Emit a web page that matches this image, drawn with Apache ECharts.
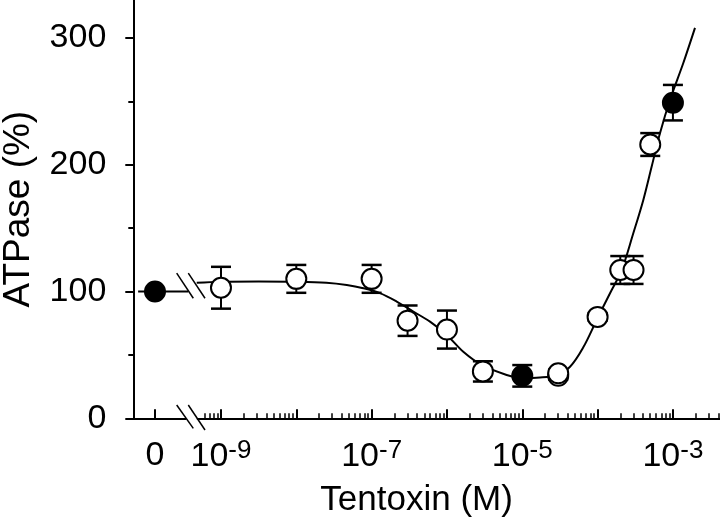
<!DOCTYPE html>
<html><head><meta charset="utf-8">
<script src="https://cdn.jsdelivr.net/npm/echarts@6/dist/echarts.min.js"></script>
<style>html,body{margin:0;padding:0;background:#fff}#c{width:720px;height:521px}</style>
</head><body><div id="c"></div>
<script>
// ---- axis ranges (x axis in log10 of concentration, M) ----
const ZERO_LOG = -9.876;          // where the "0" (no tentoxin) control sits
const X_MIN = -10.164, X_MAX = -2.375;
const Y_MIN = 0, Y_MAX = 330;

// ---- data ----
const controlATPase = [100];
const openConc   = [1e-9, 1e-8, 1e-7, 3e-7, 1e-6, 3e-6, 3e-5, 3e-5, 1e-4, 2e-4, 3e-4, 5e-4];
const openATPase = [103,  110,  110,  77,   70,   37,   33.5, 35.5, 80,   117,  117,  216];
const openErr    = [16.5, 11,   11,   12,   15,   8,    3,    3,    3,    11,   11,   9];
const filledConc   = [1e-5, 1e-3];
const filledATPase = [33.5, 249];
const filledErr    = [8.5,  14];

// fitted curve (log10 conc, ATPase %)
const fitLogConc = [-9.322,-9.0,-8.5,-8.0,-7.6,-7.33,-7.11,-6.89,-6.667,-6.447,-6.225,-6.003,-5.783,-5.539,-5.207,-5.007,-4.764,-4.543,-4.366,-4.19,-4.012,-3.835,-3.68,-3.526,-3.393,-3.282,-3.171,-3.038,-2.862,-2.707];
const fitATPase  = [107,107.8,108,107.8,107,105.2,102.6,98.7,92.1,84.2,76.3,65.8,52.5,42.1,34.2,31.8,32.2,34.2,40.7,56,77.6,98.7,117.1,146,172.3,198.6,225,251.3,280.3,308];
// control level line left of the axis break
const controlLineLog = [-10.10, -9.434];

// tick values
const yTicks = [0, 100, 200, 300];
const yMinorTicks = [50, 150, 250];
const xMajorTicks = [ZERO_LOG, -9, -8, -7, -6, -5, -4, -3];
const xLabelTicks = [ZERO_LOG, -9, -7, -5, -3];
const xMinorTicks = [];
for (let n = -10; n <= -3; n++) for (let k = 2; k <= 9; k++) {
  const v = n + Math.log10(k);
  if (v > -9.25 && v < X_MAX) xMinorTicks.push(v);
}
// axis-break decoration segments [x1,y1,x2,y2] in axis units
const breakMarks = [
  [-9.588, 10.5, -9.3675, -7.9], [-9.434, 10.5, -9.212, -9.2],
  [-9.588, 114.5, -9.3675, 94.7], [-9.434, 114.5, -9.212, 94.7]
];
const axisGap = [[-9.46, 0, -9.32, 0]];

const FONT = 'Liberation Sans, Arial, sans-serif';
const lg = v => Math.log10(v);

const chart = echarts.init(document.getElementById('c'), null, {renderer: 'canvas'});

function segSeries(data, color, width, z) {
  return {
    type: 'custom', xAxisIndex: 0, yAxisIndex: 0, z: z, silent: true, clip: false,
    data: data,
    renderItem: (p, api) => {
      const a = api.coord([api.value(0), api.value(1)]);
      const b = api.coord([api.value(2), api.value(3)]);
      return {type: 'line', shape: {x1: a[0], y1: a[1], x2: b[0], y2: b[1]},
              style: {stroke: color, lineWidth: width}};
    }
  };
}

const errRows = openConc.map((c, i) => [lg(c), openATPase[i], openErr[i]])
  .concat(filledConc.map((c, i) => [lg(c), filledATPase[i], filledErr[i]]));

chart.setOption({
  animation: false,
  backgroundColor: '#fff',
  grid: {left: 133.3, right: 0, top: 0, bottom: 102.7, containLabel: false, outerBoundsMode: 'none'},
  xAxis: [{
    type: 'value', min: X_MIN, max: X_MAX, position: 'bottom',
    name: 'Tentoxin (M)', nameLocation: 'middle', nameGap: 65,
    nameTextStyle: {fontFamily: FONT, fontSize: 35, color: '#000', padding: [0, 20, 0, 0]},
    axisLine: {show: true, onZero: false, lineStyle: {color: '#000', width: 2}},
    axisTick: {show: true, inside: true, length: 9, customValues: xMajorTicks, lineStyle: {color: '#000', width: 2}},
    axisLabel: {
      customValues: xLabelTicks, margin: 20, color: '#000', fontFamily: FONT, fontSize: 34,
      formatter: v => v < -9.5 ? '{b|0}' : '{b|10}{s|-' + Math.abs(Math.round(v)) + '}',
      rich: {
        b: {fontFamily: FONT, fontSize: 34, color: '#000', verticalAlign: 'bottom'},
        s: {fontFamily: FONT, fontSize: 26, color: '#000', verticalAlign: 'bottom', padding: [0, 0, 9, 0]}
      }
    },
    splitLine: {show: false}
  }, {
    type: 'value', min: X_MIN, max: X_MAX, position: 'bottom',
    axisLine: {show: false},
    axisTick: {show: true, inside: true, length: 5, customValues: xMinorTicks, lineStyle: {color: '#000', width: 1.5}},
    axisLabel: {show: false}, splitLine: {show: false}
  }],
  yAxis: [{
    type: 'value', min: Y_MIN, max: Y_MAX, position: 'left',
    name: 'ATPase (%)', nameLocation: 'middle', nameGap: 96, nameRotate: 90,
    nameTextStyle: {fontFamily: FONT, fontSize: 37, color: '#000'},
    axisLine: {show: true, lineStyle: {color: '#000', width: 2}},
    axisTick: {show: true, length: 8, customValues: yTicks, lineStyle: {color: '#000', width: 2}},
    axisLabel: {customValues: yTicks, margin: 27, color: '#000', fontFamily: FONT, fontSize: 34},
    splitLine: {show: false}
  }, {
    type: 'value', min: Y_MIN, max: Y_MAX, position: 'left',
    axisLine: {show: false},
    axisTick: {show: true, length: 5, customValues: yMinorTicks, lineStyle: {color: '#000', width: 2}},
    axisLabel: {show: false}, splitLine: {show: false}
  }],
  series: [
    segSeries(axisGap, '#fff', 5, 2),
    segSeries(breakMarks, '#000', 1.5, 3),
    {
      type: 'line', xAxisIndex: 0, yAxisIndex: 0, z: 2, silent: true,
      data: controlLineLog.map(x => [x, controlATPase[0]]),
      showSymbol: false, lineStyle: {color: '#000', width: 2}
    },
    {
      type: 'line', xAxisIndex: 0, yAxisIndex: 0, z: 2, silent: true, smooth: 0.35,
      data: fitLogConc.map((x, i) => [x, fitATPase[i]]),
      showSymbol: false, lineStyle: {color: '#000', width: 2}
    },
    {
      type: 'custom', xAxisIndex: 0, yAxisIndex: 0, z: 3, silent: true,
      data: errRows,
      renderItem: (p, api) => {
        const x = api.value(0), y = api.value(1), e = api.value(2);
        const t = api.coord([x, y + e]), b = api.coord([x, y - e]);
        const hw = 10;
        const st = {stroke: '#000', lineWidth: 2};
        return {type: 'group', children: [
          {type: 'line', shape: {x1: t[0], y1: t[1], x2: b[0], y2: b[1]}, style: st},
          {type: 'line', shape: {x1: t[0] - hw, y1: t[1], x2: t[0] + hw, y2: t[1]}, style: {stroke: '#000', lineWidth: 2.5}},
          {type: 'line', shape: {x1: b[0] - hw, y1: b[1], x2: b[0] + hw, y2: b[1]}, style: {stroke: '#000', lineWidth: 2.5}}
        ]};
      }
    },
    {
      type: 'scatter', xAxisIndex: 0, yAxisIndex: 0, z: 5, silent: true,
      data: openConc.map((c, i) => [lg(c), openATPase[i]]),
      symbol: 'circle', symbolSize: 20,
      itemStyle: {color: '#fff', borderColor: '#000', borderWidth: 2, opacity: 1}
    },
    {
      type: 'scatter', xAxisIndex: 0, yAxisIndex: 0, z: 5, silent: true,
      data: [[ZERO_LOG, controlATPase[0]]].concat(filledConc.map((c, i) => [lg(c), filledATPase[i]])),
      symbol: 'circle', symbolSize: 20,
      itemStyle: {color: '#000', borderColor: '#000', borderWidth: 2, opacity: 1}
    }
  ]
});
</script>
</body></html>
